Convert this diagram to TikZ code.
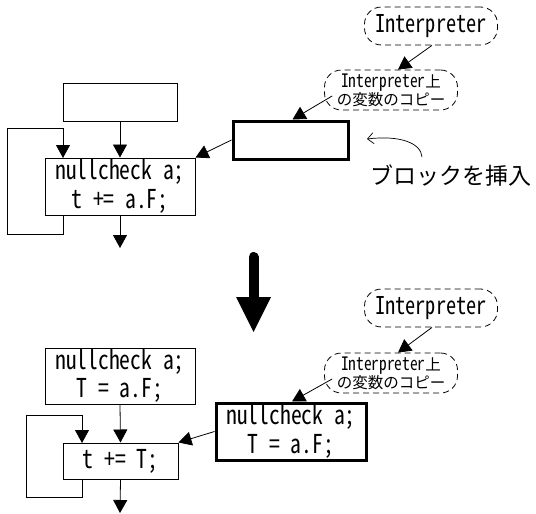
\documentclass[tikz,border=0pt]{standalone}
\usepackage{fontspec}
\setmainfont{Noto Sans CJK JP}
\newfontfamily\lat{Noto Sans CJK JP}[RawFeature=+hwid, FakeStretch=0.83]
\usetikzlibrary{arrows.meta,calc}
\begin{document}
\begin{tikzpicture}[x=1pt,y=-1pt,
  box/.style={draw, line width=1pt, rectangle, inner sep=0pt, align=center,
    font={\lat\fontsize{26}{28.5}\selectfont}},
  thick box/.style={box, line width=3pt},
  bubble/.style={draw, dash pattern=on 6pt off 4pt, line width=0.8pt,
    rounded corners=17pt, inner sep=0pt, align=center},
  bigbubble/.style={bubble, minimum width=133pt, minimum height=38pt,
    font={\lat\fontsize{24.5}{26}\selectfont}},
  smallbubble/.style={bubble, minimum width=133pt, minimum height=40pt,
    font={\fontsize{15.5}{16.5}\selectfont}},
  flow/.style={line width=0.8pt, -{Triangle[width=14pt,length=13pt]}},
  plain/.style={line width=0.8pt}
]
\useasboundingbox (0,0) rectangle (536,514);

% ---------- upper diagram ----------
\node[box, minimum width=114pt, minimum height=38pt] (topA) at (120,102) {};
\node[box, minimum width=150pt, minimum height=57pt] (mainA) at (120,186.5)
  {nullcheck a;\\t += a.F;};
\node[thick box, minimum width=115pt, minimum height=38pt] (thickA) at (290.5,140) {};
\node[bigbubble] (interpA) at (431,26) {Interpreter};
\node[smallbubble] (copyA) at (391,90) {{\lat\fontsize{18.5}{16.5}\selectfont Interpreter}上\\の変数のコピー};
\node[font={\fontsize{23}{26}\selectfont}, inner sep=0pt] (insert) at (451,176) {ブロックを挿入};

\coordinate (outA) at (120,248);
\coordinate (lA0) at (63,215);
\coordinate (lA1) at (7,234);
\coordinate (lA2) at (63,128);
\coordinate (lA3) at (63,158);

\draw[flow] (topA.south) -- (mainA.north);
\draw[flow] (mainA.south) -- (outA);
\draw[flow] (lA0) |- (lA1) |- (lA2) -- (lA3);
\draw[flow] (thickA.west) -- (mainA.north east);
\draw[flow] ($(interpA.south)+(1,0)$) -- ($(copyA.north)+(7,0)$);
\draw[flow] ($(copyA.west)+(8,6)$) -- ($(thickA.north)+(2,0)$);

\coordinate (cvS) at (422,157);
\coordinate (cvE) at (367,139);
\draw[line width=0.7pt, -{Straight Barb[length=6pt,width=11pt]}]
  (cvS) .. controls (421,143) and (400,135) .. (cvE);

% ---------- big arrow ----------
\coordinate (bigTop) at (253.5,257);
\coordinate (bigMid) at (253.5,300);
\coordinate (bigL) at (236,297);
\coordinate (bigR) at (271,297);
\coordinate (bigTip) at (253.5,332);
\draw[line width=10pt, line cap=round] (bigTop) -- (bigMid);
\fill (bigL) -- (bigR) -- (bigTip) -- cycle;

% ---------- lower diagram ----------
\node[box, minimum width=150pt, minimum height=56pt] (topB) at (120,376)
  {nullcheck a;\\T = a.F;};
\node[box, minimum width=115pt, minimum height=36pt] (mainB) at (120.5,461)
  {t += T;};
\node[thick box, minimum width=150pt, minimum height=57pt] (thickB) at (291,431.5)
  {nullcheck a;\\T = a.F;};
\node[bigbubble] (interpB) at (431,308) {Interpreter};
\node[smallbubble] (copyB) at (391,373) {{\lat\fontsize{18.5}{16.5}\selectfont Interpreter}上\\の変数のコピー};

\coordinate (outB) at (120,513);
\coordinate (lB0) at (82,479);
\coordinate (lB1) at (26,497);
\coordinate (lB2) at (82,415);
\coordinate (lB3) at (82,443);

\draw[flow] (topB.south) -- (mainB.north);
\draw[flow] (mainB.south) -- (outB);
\draw[flow] (lB0) |- (lB1) |- (lB2) -- (lB3);
\draw[flow] (thickB.west) -- (mainB.north east);
\draw[flow] ($(interpB.south)+(1,0)$) -- ($(copyB.north)+(7,0)$);
\draw[flow] ($(copyB.west)+(8,6)$) -- ($(thickB.north)+(1,0)$);
\end{tikzpicture}
\end{document}
